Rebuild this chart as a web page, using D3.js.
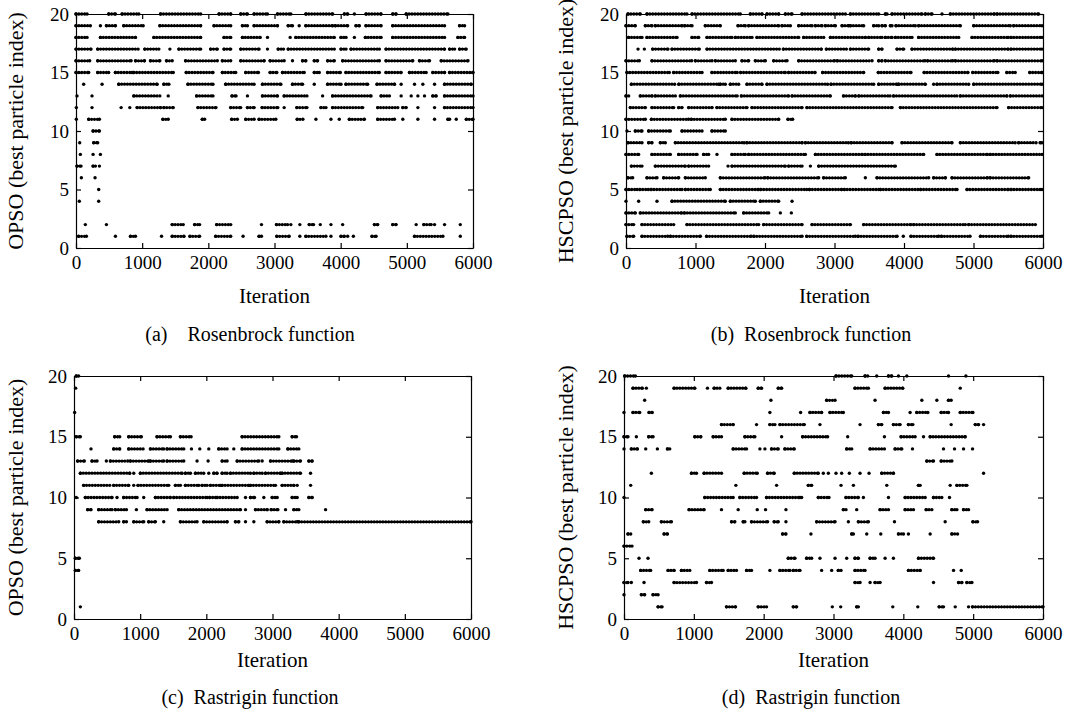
<!DOCTYPE html>
<html>
<head>
<meta charset="utf-8">
<script src="https://cdn.jsdelivr.net/npm/d3@7"></script>
<style>
  body { margin: 0; background: #fff; }
  svg text { font-family: "Liberation Serif", "Times New Roman", serif; fill: #000; }
</style>
</head>
<body>
<div id="container"></div>
<script>
/* DATA: best particle index per iteration, as runs [start, end] (or single [iter]) per index level */

const xTicks = [0, 1000, 2000, 3000, 4000, 5000, 6000];
const yTicks = [0, 5, 10, 15, 20];

// (a) OPSO, Rosenbrock
const opsoRosenbrock = [
  [20, [[0,167],[495,596],[697,949],[1278,1884],[2162,2338],[2490,2591],[2692,2894],[3045,3247],[3475,3879],[4056,4106],[4207],[4384,4611],[4788,4838],[4990,5621]]],
  [19, [[0,217],[369],[460,596],[722,1015],[1268,1884],[2086,2338],[2515,2591],[2692,3045],[3207,3272],[3373],[3474,3878],[3919,4106],[4232,4282],[4383,4611],[4787,5570],[5797,5873]]],
  [18, [[0,167],[369,899],[1177,1884],[2237,2338],[2515,2783],[2894],[3237],[3323,3904],[4005,4081],[4207],[4373,4611],[4787,5570],[5772,5873]]],
  [17, [[0,227],[328,939],[1040,1252],[1419],[1555,1884],[2035,2136],[2237,2338],[2490,2767],[2894],[3056,3136],[3207,3904],[4005,4081],[4156,4585],[4686,5570],[5646,5722],[5797,5898]]],
  [16, [[0,207],[328,833],[900,1035],[1126,1267],[1368,1454],[1656,2136],[2212,2338],[2490,2843],[2934,3146],[3272],[3424,3474],[3601,3651],[3803,3904],[4030,4585],[4686,5090],[5191,5343],[5520,5924]]],
  [15, [[0,192],[328,494],[595,847],[873,1470],[1666,2070],[2212,2414],[2565,2757],[2934,3035],[3121,3449],[3601,3677],[3803,3995],[4080,4585],[4686,4914],[5040,5292],[5393,5570],[5646,6000]]],
  [14, [[116],[394],[646,1227],[1328,1404],[1692,2070],[2262,2691],[2818,3096],[3272,3424],[3601],[3803,4005],[4080,4408],[4550,4813],[4914],[5116],[5242],[5419],[5570,5974]]],
  [13, [[15],[242],[874,1267],[1394],[1823,2070],[2358,2419],[2591],[2818,3045],[3146,3490],[3727],[3878,4459],[4611,4737],[4914],[5066],[5167],[5267],[5393,5444],[5570,6000]]],
  [12, [[5],[242],[682],[813],[924,1277],[1328,1470],[1843,2115],[2338,2489],[2591,2692],[2813,3050],[3146],[3338,3490],[3702,3778],[3878,4333],[4560,4863],[4939,4990],[5167],[5419],[5570,6000]]],
  [11, [[5],[192,354],[1313,1394],[1909,1944],[2353,2439],[2565,2692],[2767,3020],[3343,3429],[3626],[3853],[3979],[4131,4358],[4560,4813],[4939],[5167],[5419],[5621,5646],[5747],[5899,6000]]],
  [10, [[258,354]]],
  [9, [[56],[268,328]]],
  [8, [[66],[258],[369]]],
  [7, [[15,76],[258,293],[354]]],
  [6, [[81],[288]]],
  [5, [[343]]],
  [4, [[50],[343]]],
  [2, [[141],[460],[1454,1621],[1793,1868],[2126,2338],[2803],[3030,3197],[3247],[3383],[3525,3590],[3692],[3853],[4030],[4510,4560],[4787,4838],[5141],[5257,5368],[5419],[5570],[5808]]],
  [1, [[40,157],[596],[823,899],[1293],[1454,1631],[1722,1868],[2111,2338],[2525],[2767,2803],[3035,3222],[3383],[3474,3777],[3853],[4005,4055],[4106],[4192],[4474,4535],[5116,5545],[5808]]]
];

// (b) HSCPSO, Rosenbrock
const hscpsoRosenbrock = [
  [20, [[29,206],[302,877],[950,1645],[1789,1957],[2029,2197],[2293,2389],[2533,3157],[3229,3636],[3732,3756],[3828,4259],[4307,4403],[4547],[4667,5300],[5340,5937]]],
  [19, [[0,134],[278,374],[422,806],[845,950],[1141,1357],[1612,1717],[1765,2197],[2245,2365],[2485,2677],[2725,2821],[2869,3013],[3109,3205],[3229,3420],[3564,3636],[3684,3732],[3804,3828],[3885,4163],[4211,4811],[5003,5530],[5578,5986]]],
  [18, [[38,230],[302,734],[950,1046],[1166,1525],[1574,1813],[1885,2485],[2557,2845],[2941,3445],[3492,3684],[3732,3828],[3876,4115],[4211,4787],[4979,5500],[5540,5986]]],
  [17, [[173],[264],[384,604],[662,1055],[1166,2206],[2264,2811],[2883,3171],[3229,3492],[3636,3684],[3900,3996],[4115,4700],[4740,5500],[5540,5986]]],
  [16, [[0,192],[374,945],[998,1238],[1286,1573],[1669,1765],[1861,2005],[2125,2317],[2485,3000],[3040,3540],[3636,3684],[3732,4300],[4340,4700],[4740,5300],[5340,5986]]],
  [15, [[14,624],[686,1094],[1237,1600],[1650,2293],[2340,2720],[2830,3420],[3630,4100],[4290,4920],[4990,5350],[5480,5600],[5810,5986]]],
  [14, [[77,700],[760,1333],[1357,1429],[1501,1621],[1741,1957],[2029,2900],[2950,3564],[3636,3900],[3924,4307],[4427],[4475,4931],[5003,5986]]],
  [13, [[0,38],[206,374],[422,710],[782,1600],[1660,2340],[2390,2940],[3130,3300],[3350,3800],[3850,4760],[4810,5480],[5530,5986]]],
  [12, [[62,278],[374,686],[758,806],[902,1237],[1309,1741],[1813,2533],[2604,3828],[3948,5338],[5506,5986]]],
  [11, [[0,278],[365,900],[940,1429],[1525,2197],[2331,2398]]],
  [10, [[14],[134,230],[326,638],[806,1094],[1237,1429]]],
  [9, [[29,230],[326,374],[494,566],[710,1700],[1740,2533],[2581,3200],[3240,3828],[3972,4691],[4811,5600],[5650,5900],[5960,5986]]],
  [8, [[0,182],[374,638],[758,1022],[1117,1189],[1309],[1525,1717],[1765,2581],[2725,3400],[3440,4283],[4475,5200],[5240,5986]]],
  [7, [[77,230],[422,854],[902,1189],[1468],[1525,2293],[2341,2533],[2653],[2773,3876]]],
  [6, [[29,96],[302,446],[542,758],[854,1141],[1357,2000],[2040,2772],[2844,3156],[3444],[3612,4355],[4427,4595],[4691,5200],[5240,5794]]],
  [5, [[0,160],[200,320],[360,806],[854,1213],[1357,1900],[1940,2600],[2640,3100],[3140,3636],[3660,4200],[4240,4763],[4907,5500],[5540,5986]]],
  [4, [[0],[182],[446],[662,1429],[1501,1861],[1933,2197],[2389]]],
  [3, [[0,134],[206,800],[840,1573],[1693,2053],[2221],[2379]]],
  [2, [[0,110],[230,686],[878,1909],[1981,2533],[2677,3229],[3420,4100],[4140,4883],[4931,5890]]],
  [1, [[14,110],[230,600],[640,1070],[1160,1800],[1840,2533],[2600,3300],[3340,3900],[3990],[4100,4500],[4540,4950],[5100,5500],[5540,5986]]]
];

// (c) OPSO, Rastrigin
const opsoRastrigin = [
  [20, [[35,70]]],
  [19, [[25]]],
  [17, [[10]]],
  [15, [[35,96],[615,691],[827,1018],[1255,1457],[1608,1770],[2541,3096],[3297,3363]]],
  [14, [[257],[600,691],[827,1044],[1155,1356],[1407,1659],[1775],[1901],[2037],[2188,2314],[2415],[2541,3096],[3232,3398]]],
  [13, [[55,156],[272,348],[489],[550,812],[852,1129],[1155,1356],[1407,1659],[1860],[2027],[2239,2314],[2466,2793],[2844],[2970,3297],[3323,3423],[3550,3600]]],
  [12, [[96,842],[903],[1003,1634],[1684,1760],[1835,1961],[2037],[2113,2163],[2239,2314],[2365,2667],[2718,2844],[2894,3121],[3146,3423],[3575]]],
  [11, [[146,540],[600,827],[903],[968,1432],[1533,1608],[1684,1886],[1936,2012],[2062,2213],[2239,2642],[2667,3045],[3146,3323],[3373],[3575]]],
  [10, [[35],[171,575],[650],[751,953],[1054],[1230,1457],[1508,2012],[2052,2138],[2163,2466],[2592],[2667,2728],[2869],[2995,3071],[3297,3373],[3550,3600]]],
  [9, [[207,257],[373,575],[625,792],[943],[1104,1407],[1583,2516],[2592],[2743,2919],[2980,3081],[3197],[3323,3398],[3802]]],
  [8, [[373,676],[751,792],[903,1054],[1129,1230],[1356],[1608,1860],[1961,2314],[2440,2491],[2592],[2718],[2919,3096],[3171,3373],[3398,6000]]],
  [5, [[20,81]]],
  [4, [[20,70]]],
  [1, [[96]]]
];

// (d) HSCPSO, Rastrigin
const hscpsoRastrigin = [
  [20, [[10,163],[3036,3261],[3452,3490],[3619],[3787,3834],[3930],[4050],[4647],[4896]]],
  [19, [[129,263],[320],[717,1014],[1195],[1291,1372],[1492,1745],[1922,1970],[2209,2257],[3308,3500],[3739,3992],[4815]]],
  [18, [[296],[2104],[2902,3022],[3595],[4265],[4480],[4647,4685]]],
  [17, [[0],[129,225],[359,402],[2089],[2529],[2663,2830],[2950,3141],[3715,3787],[4097],[4193,4351],[4542,4647],[4815,4996]]],
  [16, [[1396,1563],[1898],[2089,2161],[2233,2582],[2806],[3380],[3643,3691],[3858,3954],[4073,4136],[4685],[5030,5077],[5149]]],
  [15, [[0,57],[177],[354,416],[1014,1100],[1277,1396],[1731,1874],[2257],[2558,2916],[3203],[3729],[3968,4169],[4289],[4384,4886]]],
  [14, [[0],[105,191],[311],[478],[622,655],[1563,1755],[1946],[2018],[2113,2209],[2304,2438],[3189,3261],[3524,3729],[3882,3978],[4131],[4575],[4733],[4862],[4991]]],
  [13, [[4336,4432],[4542,4695]]],
  [12, [[392],[966,1038],[1147,1396],[1721,1908],[2056,2151],[2438,2782],[2854],[2926],[3036],[3117],[3227],[3380],[3509],[3691,3858],[5149]]],
  [11, [[96],[1602],[2185],[2639,2687],[3108],[3285],[3763],[4217,4241],[4671],[4767,4910]]],
  [10, [[0],[1157,1563],[1659,1898],[2041,2520],[2544],[2782,2935],[3179,3356],[3428],[3787],[4026,4313],[4432,4551],[4661]]],
  [9, [[311,402],[932,1147],[1396],[1635],[1908],[2027],[2319],[3141,3179],[3332],[3667,3787],[4026,4145],[4327,4408],[4695,4767],[4862,4934]]],
  [8, [[277,354],[535,679],[1540,1587],[1707,1731],[1826,2056],[2151,2209],[2319],[2759,3022],[3213],[3356,3500],[3873],[4599],[4996,5063]]],
  [7, [[57,96],[574,622],[2271,2319],[2677],[3261,3285],[3476],[3677],[3930,4002],[4073],[4384],[4695,4776]]],
  [6, [[0,115]]],
  [5, [[215],[344],[2352,2448],[2615,2687],[2806],[3022],[3189],[3308,3356],[3524,3595],[3739],[3858],[4217,4432]]],
  [4, [[239,382],[631,717],[822,942],[1229,1420],[1492,1611],[1755,1826],[2089],[2233,2376],[2424,2520],[2830],[2974],[3069,3108],[3308,3452],[4073,4241],[4719],[4829]]],
  [3, [[0,57],[105],[287],[717,1038],[1181,1253],[3308,3380],[3524],[3595,3667],[4432],[4791,4839],[4910,4982]]],
  [2, [[0],[249,296],[416,488]]],
  [1, [[488,545],[1468,1597],[1922,2041],[2424,2472],[2983],[3103],[3332,3356],[3849],[4207],[4513,4575],[4743],[4934],[4991,6000]]]
];

/* LAYOUT */
const width = 1091, height = 723;

const panels = [
  { data: opsoRosenbrock,   ylabel: "OPSO (best particle index)",   caption: "(a)\u2003Rosenbrock function",
    x0: 76,  x1: 473,  y0: 14,  y1: 248, ylabelX: 18,  xlabelY: 298, captionY: 336, captionX: 250 },
  { data: hscpsoRosenbrock, ylabel: "HSCPSO (best particle index)", caption: "(b)\u2002Rosenbrock function",
    x0: 626, x1: 1043, y0: 14,  y1: 248, ylabelX: 568, xlabelY: 298, captionY: 336, captionX: 811 },
  { data: opsoRastrigin,    ylabel: "OPSO (best particle index)",   caption: "(c)\u2002Rastrigin function",
    x0: 74,  x1: 471,  y0: 376, y1: 619, ylabelX: 18,  xlabelY: 662, captionY: 699, captionX: 250 },
  { data: hscpsoRastrigin,  ylabel: "HSCPSO (best particle index)", caption: "(d)\u2002Rastrigin function",
    x0: 624, x1: 1043, y0: 376, y1: 619, ylabelX: 568, xlabelY: 662, captionY: 699, captionX: 811 }
];

const svg = d3.select("#container")
  .append("svg")
  .attr("width", width)
  .attr("height", height);

panels.forEach(p => {
  const xScale = d3.scaleLinear().domain([0, 6000]).range([p.x0, p.x1]);
  const yScale = d3.scaleLinear().domain([0, 20]).range([p.y1, p.y0]);

  const g = svg.append("g");

  // flatten runs
  const runs = p.data.flatMap(([level, segs]) =>
    segs.map(s => ({ level, start: s[0], end: s.length > 1 ? s[1] : s[0] })));

  // dotted runs
  g.selectAll("line.run")
    .data(runs.filter(d => d.end > d.start))
    .join("line")
    .attr("class", "run")
    .attr("x1", d => xScale(d.start))
    .attr("x2", d => xScale(d.end))
    .attr("y1", d => yScale(d.level))
    .attr("y2", d => yScale(d.level))
    .attr("stroke", "#000")
    .attr("stroke-width", 3.3)
    .attr("stroke-linecap", "round")
    .attr("stroke-dasharray", "0 2.9");

  // end points (and single points)
  const pts = runs.flatMap(d => d.end > d.start
    ? [{ it: d.start, level: d.level }, { it: d.end, level: d.level }]
    : [{ it: d.start, level: d.level }]);

  g.selectAll("circle")
    .data(pts)
    .join("circle")
    .attr("cx", d => xScale(d.it))
    .attr("cy", d => yScale(d.level))
    .attr("r", 1.7)
    .attr("fill", "#000");

  // axes, ticks pointing inwards on all four sides
  const fontSize = 19;
  const xAxis = d3.axisBottom(xScale).tickValues(xTicks).tickFormat(d3.format("d"))
    .tickSizeInner(-5).tickSizeOuter(0).tickPadding(8);
  const xAxisTop = d3.axisTop(xScale).tickValues(xTicks).tickFormat("")
    .tickSizeInner(-5).tickSizeOuter(0);
  const yAxis = d3.axisLeft(yScale).tickValues(yTicks).tickFormat(d3.format("d"))
    .tickSizeInner(-5).tickSizeOuter(0).tickPadding(7);
  const yAxisRight = d3.axisRight(yScale).tickValues(yTicks).tickFormat("")
    .tickSizeInner(-5).tickSizeOuter(0);

  const axes = [
    g.append("g").attr("transform", `translate(0,${p.y1})`).call(xAxis),
    g.append("g").attr("transform", `translate(0,${p.y0})`).call(xAxisTop),
    g.append("g").attr("transform", `translate(${p.x0},0)`).call(yAxis),
    g.append("g").attr("transform", `translate(${p.x1},0)`).call(yAxisRight)
  ];
  axes.forEach(a => {
    a.selectAll("path, line").attr("stroke", "#000").attr("stroke-width", 1.2);
    a.selectAll("text")
      .style("font-family", "'Liberation Serif', serif")
      .style("font-size", fontSize + "px")
      .attr("fill", "#000");
  });

  // axis titles
  g.append("text")
    .attr("x", (p.x0 + p.x1) / 2)
    .attr("y", p.xlabelY)
    .attr("text-anchor", "middle")
    .attr("dominant-baseline", "middle")
    .style("font-size", "21px")
    .text("Iteration");

  g.append("text")
    .attr("transform", `translate(${p.ylabelX},${(p.y0 + p.y1) / 2}) rotate(-90)`)
    .attr("text-anchor", "middle")
    .attr("dominant-baseline", "middle")
    .style("font-size", "22px")
    .text(p.ylabel);

  // caption
  g.append("text")
    .attr("x", p.captionX)
    .attr("y", p.captionY)
    .attr("text-anchor", "middle")
    .attr("dominant-baseline", "middle")
    .style("font-size", "20px")
    .text(p.caption);
});
</script>
</body>
</html>
